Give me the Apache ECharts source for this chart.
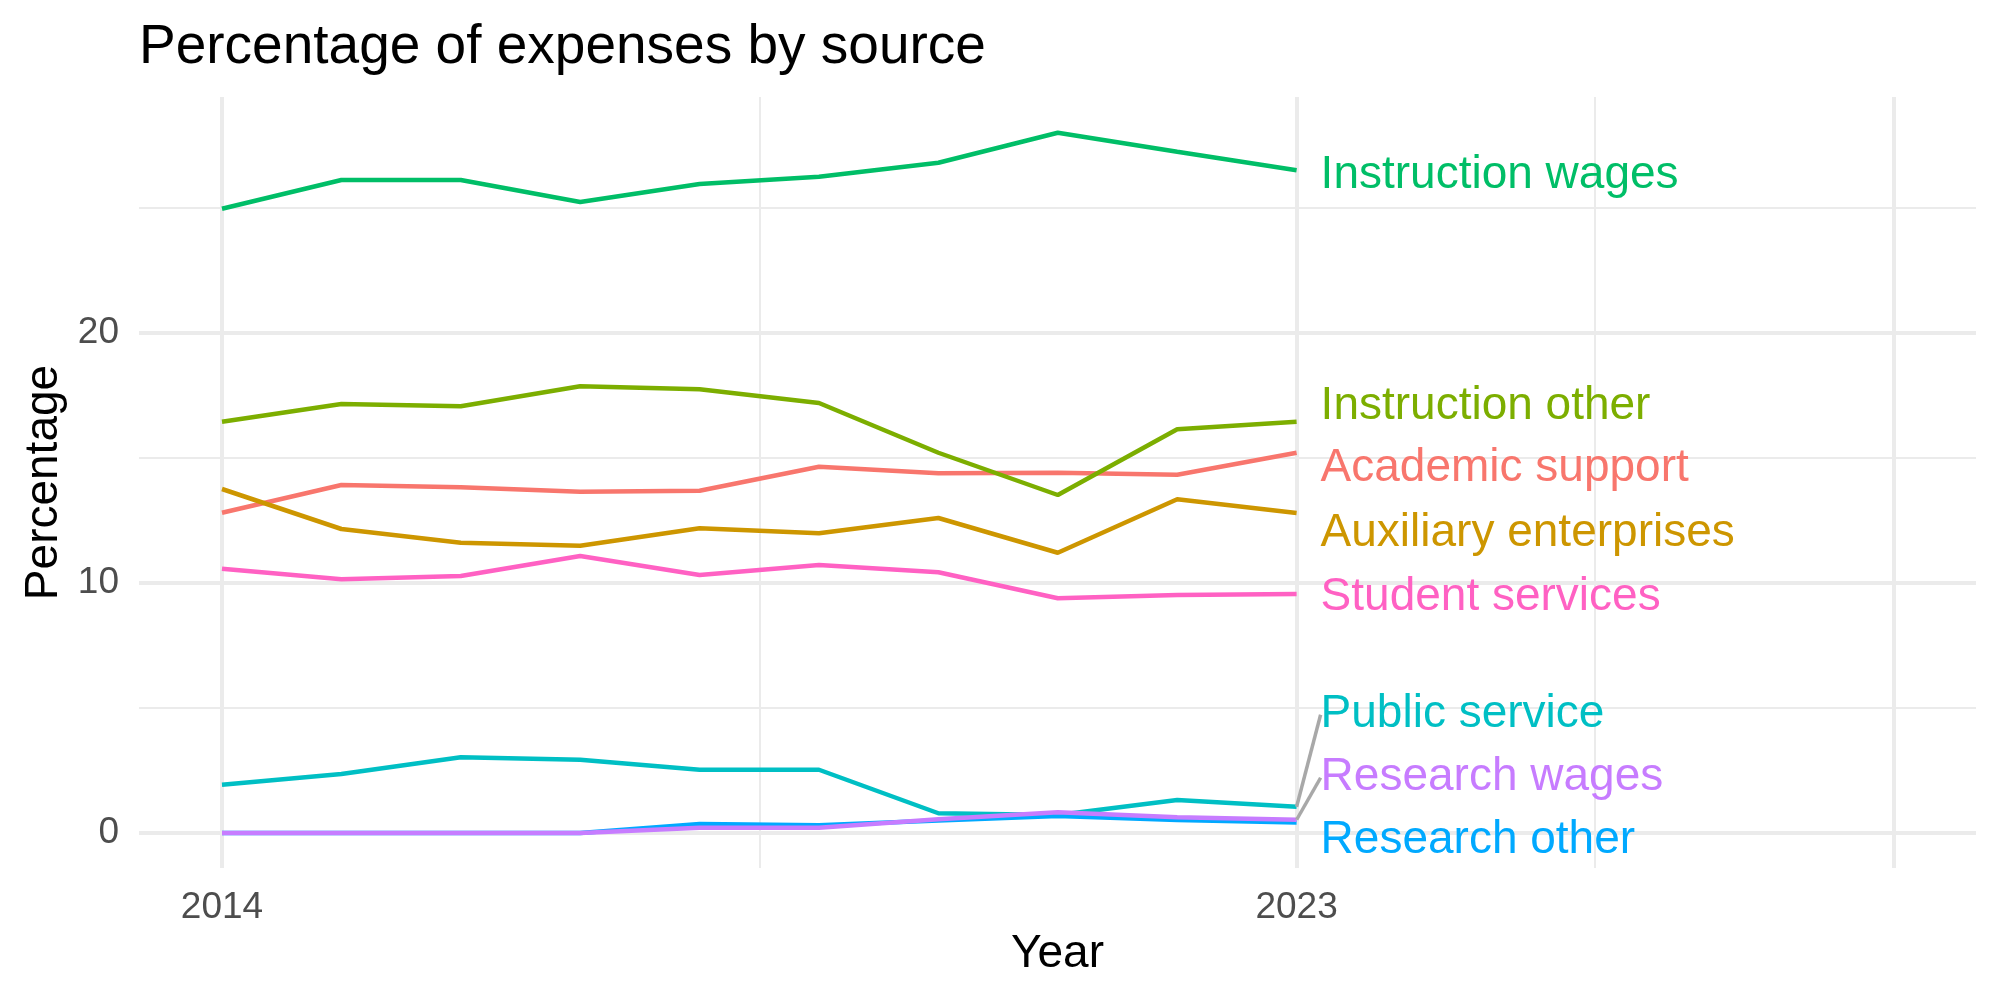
<!DOCTYPE html>
<html>
<head>
<meta charset="utf-8">
<title>Percentage of expenses by source</title>
<script src="https://cdn.jsdelivr.net/npm/echarts@6/dist/echarts.min.js"></script>
<style>
    html, body {margin: 0; padding: 0; background: #fff;}
    #chart {width: 2000px; height: 1000px;}
</style>
</head>
<body>
<div id="chart"></div>
<script>
// years on the x axis
var years = [2014, 2015, 2016, 2017, 2018, 2019, 2020, 2021, 2022, 2023]

// percentage of expenses, one list per source
var academicSupport      = [12.81, 13.92, 13.83, 13.65, 13.69, 14.65, 14.39, 14.41, 14.33, 15.21]
var auxiliaryEnterprises = [13.76, 12.16, 11.61, 11.49, 12.19, 11.99, 12.60, 11.21, 13.35, 12.80]
var instructionOther     = [16.45, 17.16, 17.07, 17.87, 17.75, 17.20, 15.21, 13.52, 16.15, 16.45]
var instructionWages     = [24.97, 26.12, 26.12, 25.24, 25.96, 26.25, 26.81, 28.01, 27.25, 26.51]
var publicService        = [1.93, 2.36, 3.03, 2.93, 2.53, 2.53, 0.79, 0.72, 1.32, 1.05]
var researchOther        = [0, 0, 0, 0, 0.36, 0.31, 0.50, 0.68, 0.52, 0.42]
var researchWages        = [0, 0, 0, 0, 0.21, 0.21, 0.55, 0.83, 0.63, 0.53]
var studentServices      = [10.57, 10.15, 10.28, 11.08, 10.32, 10.72, 10.43, 9.39, 9.52, 9.56]

var sourceNames = ["Academic support", "Auxiliary enterprises", "Instruction other", "Instruction wages",
    "Public service", "Research other", "Research wages", "Student services"]
var sourceValues = [academicSupport, auxiliaryEnterprises, instructionOther, instructionWages,
    publicService, researchOther, researchWages, studentServices]

// tick labels
var xLabelTicks = [2014, 2023]
var xMajorGrid = [2014, 2023, 2028]
var xMinorGrid = [2018.5, 2025.5]
var yMajorTicks = [0, 10, 20]
var yMinorGrid = [5, 15, 25]

// ggplot hue palette, alphabetical order
var colors = ["#F8766D", "#CD9600", "#7CAE00", "#00BE67", "#00BFC4", "#00A9FF", "#C77CFF", "#FF61C3"]
// how far each end label is pushed up/down (px), and which ones get a grey leader
var labelShift = [16, 20, -15, 5, -92, 18, -42, 3]
var labelLeader = [false, false, false, false, true, false, true, false]

var FONT = "Liberation Sans, Arial, Helvetica, sans-serif"
var GRID_COLOR = "#EBEBEB"

var chart = echarts.init(document.getElementById("chart"), null, {renderer: "canvas"})

var buildSeries = () => {
    var series = []
    for (var k = 0; k < sourceNames.length; k++) {
        var vals = sourceValues[k]
        var data = []
        for (var i = 0; i < years.length; i++) {
            var item = {value: [years[i], vals[i]]}
            if (i === years.length - 1) {
                item.label = {show: true}
                item.labelLine = {show: labelLeader[k]}
            }
            data.push(item)
        }
        series.push({
            name: sourceNames[k],
            type: "line",
            xAxisIndex: 0,
            yAxisIndex: 0,
            data: data,
            showSymbol: true,
            symbol: "circle",
            symbolSize: 0,
            silent: true,
            animation: false,
            lineStyle: {color: colors[k], width: 4.5},
            itemStyle: {color: colors[k]},
            label: {
                show: false,
                position: "right",
                distance: 24,
                align: "left",
                verticalAlign: "middle",
                formatter: sourceNames[k],
                color: colors[k],
                fontFamily: FONT,
                fontSize: 46
            },
            labelLine: {
                show: false,
                lineStyle: {color: "#A8A8A8", width: 3.5}
            },
            labelLayout: {dy: labelShift[k]},
            emphasis: {disabled: true}
        })
    }
    return series
}

var option = {
    backgroundColor: "#ffffff",
    animation: false,
    title: {
        text: "Percentage of expenses by source",
        left: 139,
        top: 20,
        padding: 0,
        textStyle: {fontFamily: FONT, fontSize: 55, fontWeight: "normal", color: "#000000", lineHeight: 55}
    },
    grid: {left: 139, right: 24, top: 97, bottom: 132, containLabel: false},
    xAxis: [
        {
            type: "value",
            min: 2013.305,
            max: 2028.69,
            name: "Year",
            nameLocation: "middle",
            nameGap: 63,
            nameTextStyle: {fontFamily: FONT, fontSize: 46, color: "#000000"},
            axisLine: {show: false},
            axisTick: {show: false, customValues: xMajorGrid},
            axisLabel: {
                customValues: xLabelTicks,
                margin: 21,
                fontFamily: FONT,
                fontSize: 37,
                color: "#4D4D4D",
                formatter: (v) => String(v)
            },
            splitLine: {show: true, lineStyle: {color: GRID_COLOR, width: 4}}
        },
        {
            type: "value",
            min: 2013.305,
            max: 2028.69,
            axisLine: {show: false},
            axisTick: {show: false, customValues: xMinorGrid},
            axisLabel: {show: false},
            splitLine: {show: true, lineStyle: {color: GRID_COLOR, width: 2}}
        }
    ],
    yAxis: [
        {
            type: "value",
            min: -1.4,
            max: 29.44,
            name: "Percentage",
            nameLocation: "middle",
            nameGap: 72,
            nameRotate: 90,
            nameTextStyle: {fontFamily: FONT, fontSize: 46, color: "#000000"},
            axisLine: {show: false},
            axisTick: {show: false, customValues: yMajorTicks},
            axisLabel: {
                customValues: yMajorTicks,
                margin: 20,
                padding: [9, 0, 0, 0],
                fontFamily: FONT,
                fontSize: 37,
                color: "#4D4D4D"
            },
            splitLine: {show: true, lineStyle: {color: GRID_COLOR, width: 4}}
        },
        {
            type: "value",
            min: -1.4,
            max: 29.44,
            axisLine: {show: false},
            axisTick: {show: false, customValues: yMinorGrid},
            axisLabel: {show: false},
            splitLine: {show: true, lineStyle: {color: GRID_COLOR, width: 2}}
        }
    ],
    series: buildSeries()
}

chart.setOption(option)
</script>
</body>
</html>
